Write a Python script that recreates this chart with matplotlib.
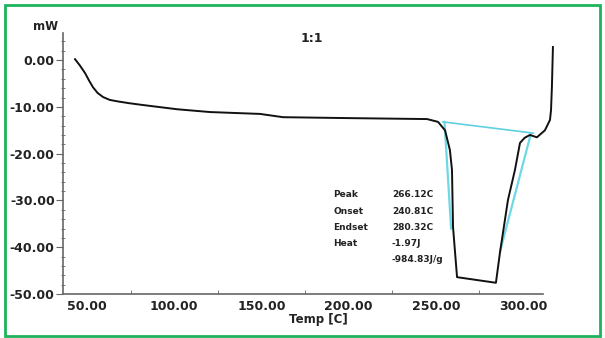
import numpy as np
import matplotlib.pyplot as plt
from matplotlib.patches import Rectangle

# DSC curve
temp = [43.1, 46.0, 48.9, 51.2, 53.4, 56.0, 59.2, 63.0, 67.2, 74.0,
        82.1, 101.6, 120.5, 149.2, 162.4, 200.8, 245.0, 251.3, 255.3, 258.1,
        259.3, 259.9, 262.2, 284.5, 286.8, 291.4, 295.4, 298.3, 301.0, 304.0,
        308.0, 312.6, 315.5, 316.1, 316.6, 317.2]
heat_flow = [0.2, -1.2, -2.8, -4.4, -5.8, -7.0, -7.9, -8.5, -8.8, -9.2,
             -9.6, -10.5, -11.1, -11.5, -12.2, -12.4, -12.6, -13.2, -15.0, -19.2,
             -23.5, -35.7, -46.4, -47.6, -41.2, -29.9, -23.5, -17.7, -16.6, -16.0,
             -16.5, -15.0, -12.8, -10.7, -5.8, 2.8]

# peak analysis lines (baseline and tangents)
base_t = [254.1, 305.9]
base_mw = [-13.2, -15.6]
left_t = [255.0, 258.8]
left_mw = [-13.2, -36.0]
right_t = [304.5, 286.8]
right_mw = [-15.8, -41.0]

x_ticks = [50, 100, 150, 200, 250, 300]
y_ticks = [0, -10, -20, -30, -40, -50]

info_labels = ["Peak", "Onset", "Endset", "Heat", ""]
info_values = ["266.12C", "240.81C", "280.32C", "-1.97J", "-984.83J/g"]

fig = plt.figure(figsize=(6.05, 3.38), dpi=100)
ax = fig.add_axes([63 / 605, 1 - 294 / 338, 480 / 605, 261 / 338])

ax.plot(left_t, left_mw, color='#6fd8e6', lw=1.6, zorder=2)
ax.plot(right_t, right_mw, color='#6fd8e6', lw=1.6, zorder=2)
ax.plot(base_t, base_mw, color='#5fd0e0', lw=1.2, zorder=2)
ax.plot(temp, heat_flow, color='#111111', lw=1.4, zorder=3, clip_on=False)

ax.set_xlim(36.2, 311.5)
ax.set_ylim(-50, 5.8)

for s in ['top', 'right']:
    ax.spines[s].set_visible(False)
for s in ['left', 'bottom']:
    ax.spines[s].set_color('#666666')
    ax.spines[s].set_linewidth(1.2)

ax.set_xticks(x_ticks)
ax.set_xticklabels(["%.2f" % v for v in x_ticks])
ax.set_xticks(np.arange(75, 300, 50), minor=True)
ax.set_yticks(y_ticks)
ax.set_yticklabels(["%.2f" % v for v in y_ticks])
ax.set_yticks(np.arange(-48, 5, 2), minor=True)

ax.tick_params(axis='x', which='major', length=0, pad=4,
               labelsize=9, colors='#222222')
ax.tick_params(axis='x', which='minor', direction='in', length=3,
               color='#666666')
ax.tick_params(axis='y', which='major', direction='out', length=5, pad=1,
               labelsize=9, colors='#222222')
ax.tick_params(axis='y', which='minor', direction='inout', length=3,
               color='#666666')
ax.tick_params(axis='y', which='major', color='#666666')
for lab in ax.get_xticklabels() + ax.get_yticklabels():
    lab.set_fontweight('bold')

fig.text(312 / 605, 1 - 38 / 338, "1:1", ha='center', va='center',
         fontsize=9, fontweight='bold', color='#222222')
fig.text(46 / 605, 1 - 27 / 338, "mW", ha='center', va='center',
         fontsize=8.5, fontweight='bold', color='#222222')
fig.text(318 / 605, 1 - 320 / 338, "Temp [C]", ha='center', va='center',
         fontsize=8.5, fontweight='bold', color='#222222')

for i in range(len(info_labels)):
    yy = 1 - (195 + i * 16) / 338
    fig.text(333 / 605, yy, info_labels[i], ha='left', va='center',
             fontsize=6.5, fontweight='bold', color='#222222')
    fig.text(392 / 605, yy, info_values[i], ha='left', va='center',
             fontsize=6.5, fontweight='bold', color='#222222')

# green frame round the picture
fig.patches.append(Rectangle((5 / 605, 2 / 338), 595 / 605, 331 / 338,
                             transform=fig.transFigure, fill=False,
                             edgecolor='#1db35a', lw=2))

fig.savefig("out.png", dpi=100)
